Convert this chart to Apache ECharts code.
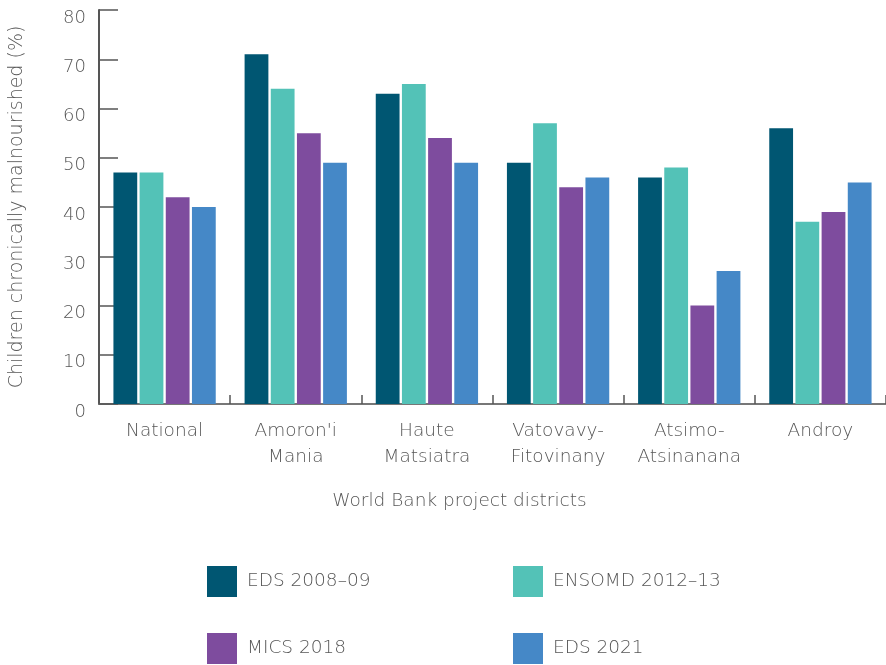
<!DOCTYPE html>
<html>
<head>
<meta charset="utf-8">
<script src="https://cdn.jsdelivr.net/npm/echarts@6/dist/echarts.min.js"></script>
<style>
html,body{margin:0;padding:0;background:#fff;}
#chart{width:886px;height:665px;}
</style>
</head>
<body>
<div id="chart"></div>
<script>
const categories = ["National", "Amoron'i\nMania", "Haute\nMatsiatra", "Vatovavy-\nFitovinany", "Atsimo-\nAtsinanana", "Androy"];
const seriesNames = ["EDS 2008–09", "ENSOMD 2012–13", "MICS 2018", "EDS 2021"];
const eds2008 = [47, 71, 63, 49, 46, 56];
const ensomd2012 = [47, 64, 65, 57, 48, 37];
const mics2018 = [42, 55, 54, 44, 20, 39];
const eds2021 = [40, 49, 49, 46, 27, 45];
const yTicks = [0, 10, 20, 30, 40, 50, 60, 70, 80];
const colors = ["#005672", "#53C2B7", "#7E4C9E", "#4588C7"];

const FONT = "'DejaVu Sans', sans-serif";
const FW = 200;
const TXT = "#575757";
const values = [eds2008, ensomd2012, mics2018, eds2021];
const legendPos = [[202, 561], [508, 561], [202, 628], [508, 628]];

const chart = echarts.init(document.getElementById('chart'), null, {renderer: 'canvas'});
chart.setOption({
  animation: false,
  textStyle: {fontFamily: FONT, fontWeight: FW, color: TXT},
  grid: {left: 99, top: 10, width: 789, height: 394, containLabel: false},
  xAxis: {
    type: 'category',
    data: categories,
    name: 'World Bank project districts',
    nameLocation: 'middle',
    nameGap: 88,
    nameTextStyle: {fontFamily: FONT, fontWeight: FW, fontSize: 18.5, color: TXT, padding: [0, 66, 0, 0]},
    axisLine: {lineStyle: {color: '#777', width: 2}},
    axisTick: {show: true, inside: true, length: 9, lineStyle: {color: '#555', width: 1.5}},
    axisLabel: {fontFamily: FONT, fontWeight: FW, fontSize: 18.5, color: TXT, lineHeight: 26, margin: 14, interval: 0}
  },
  yAxis: {
    type: 'value',
    min: yTicks[0],
    max: yTicks[yTicks.length - 1],
    interval: 10,
    name: 'Children chronically malnourished (%)',
    nameLocation: 'middle',
    nameGap: 72,
    nameTextStyle: {fontFamily: FONT, fontWeight: FW, fontSize: 19, color: TXT},
    axisLine: {show: true, lineStyle: {color: '#555', width: 2}},
    axisTick: {show: true, inside: true, length: 19, lineStyle: {color: '#555', width: 1.5}},
    splitLine: {show: false},
    axisLabel: {fontFamily: FONT, fontWeight: FW, fontSize: 18, color: TXT, margin: 13, verticalAlign: 'top', lineHeight: 16}
  },
  legend: seriesNames.map((n, i) => ({
    left: legendPos[i][0], top: legendPos[i][1],
    data: [n],
    itemWidth: 30, itemHeight: 31,
    icon: 'rect',
    selectedMode: false,
    textStyle: {fontFamily: FONT, fontWeight: FW, fontSize: 18.5, color: TXT, padding: [0, 0, 0, 5]}
  })),
  series: seriesNames.map((n, i) => ({
    name: n,
    type: 'bar',
    data: values[i],
    itemStyle: {color: colors[i]},
    barGap: '10%',
    barCategoryGap: '22%'
  }))
});
</script>
</body>
</html>
